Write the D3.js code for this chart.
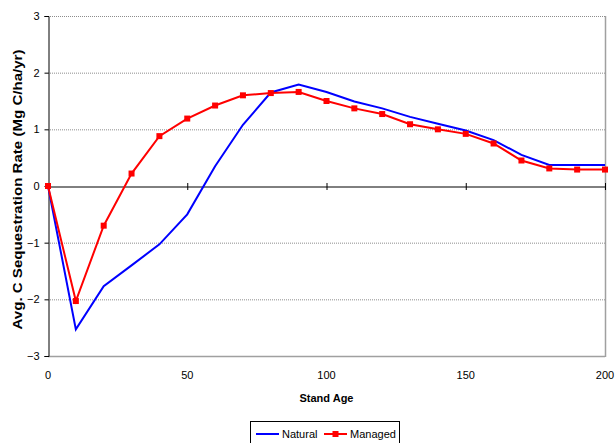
<!DOCTYPE html>
<html><head><meta charset="utf-8">
<script src="https://cdn.jsdelivr.net/npm/d3@7"></script>
<style>body{margin:0;background:#fff;} text{font-family:"Liberation Sans",Arial,sans-serif;}</style>
</head><body>
<svg id="c" width="615" height="443"></svg>
<script>
const ages = [0,10,20,30,40,50,60,70,80,90,100,110,120,130,140,150,160,170,180,190,200];
const natural = [0,-2.53,-1.77,-1.4,-1.03,-0.5,0.35,1.08,1.65,1.79,1.66,1.49,1.37,1.22,1.1,0.98,0.81,0.55,0.37,0.37,0.37];
const managed = [0,-2.03,-0.7,0.22,0.88,1.19,1.42,1.6,1.64,1.66,1.5,1.37,1.27,1.09,1.0,0.92,0.75,0.45,0.31,0.29,0.29];
const xTicks = [0,50,100,150,200];
const yTicks = [-3,-2,-1,0,1,2,3];

const svg = d3.select("#c");
const L=48, R=605, T=16, B=356;
const x = d3.scaleLinear().domain([0,200]).range([L,R]);
const y = d3.scaleLinear().domain([-3,3]).range([B,T]);

// gridlines
svg.append("g").selectAll("line").data(yTicks.filter(d=>d!==0)).join("line")
  .attr("x1",L).attr("x2",R).attr("y1",d=>y(d)+0.5).attr("y2",d=>y(d)+0.5)
  .attr("stroke","#8c8c8c").attr("stroke-width",1).attr("stroke-dasharray","1,1");
// plot border right/bottom
svg.append("line").attr("x1",R+0.5).attr("x2",R+0.5).attr("y1",T).attr("y2",B+1).attr("stroke","#a0a0a0").attr("stroke-width",1.5);
svg.append("line").attr("x1",L).attr("x2",R).attr("y1",B+0.5).attr("y2",B+0.5).attr("stroke","#a0a0a0").attr("stroke-width",1.5);

// y axis
const yAxis = d3.axisLeft(y).tickValues(yTicks).tickSize(4).tickPadding(5).tickFormat(d3.format("d"));
const gy = svg.append("g").attr("transform",`translate(${L+0.5},0)`).call(yAxis);
gy.select(".domain").attr("stroke","#000");
gy.selectAll("text").attr("font-size",11).attr("fill","#000").attr("font-family","Liberation Sans, Arial, sans-serif");

// x axis on zero line
const xAxis = d3.axisBottom(x).tickValues(xTicks).tickSize(0).tickFormat("");
const gx = svg.append("g").attr("transform",`translate(0,${y(0)+0.5})`).call(xAxis);
gx.select(".domain").attr("stroke","#000");
svg.append("g").selectAll("line").data(xTicks).join("line")
  .attr("x1",d=>x(d)+0.5).attr("x2",d=>x(d)+0.5).attr("y1",y(0)-3).attr("y2",y(0)+4)
  .attr("stroke","#000");
svg.append("g").selectAll("text").data(xTicks).join("text")
  .attr("x",d=>x(d)).attr("y",B+23).attr("text-anchor","middle").attr("font-size",11).text(d=>d);

// titles
svg.append("text").attr("x",(L+R)/2).attr("y",402).attr("text-anchor","middle")
  .attr("font-size",11).attr("font-weight","bold").text("Stand Age");
svg.append("text").attr("transform",`translate(22,189.5) rotate(-90)`).attr("text-anchor","middle")
  .attr("font-size",12).attr("font-weight","bold")
  .attr("textLength",280).attr("lengthAdjust","spacingAndGlyphs")
  .text("Avg. C Sequestration Rate (Mg C/ha/yr)");

// lines
const line = d3.line().x((d,i)=>x(ages[i])).y(d=>y(d));
svg.append("path").datum(natural).attr("d",line).attr("fill","none").attr("stroke","#0000ff").attr("stroke-width",2);
svg.append("path").datum(managed).attr("d",line).attr("fill","none").attr("stroke","#ff0000").attr("stroke-width",2);
svg.append("g").selectAll("rect").data(managed).join("rect")
  .attr("x",(d,i)=>x(ages[i])-3).attr("y",d=>y(d)-3).attr("width",6).attr("height",6).attr("fill","#ff0000");

// legend
const lg = svg.append("g");
lg.append("rect").attr("x",250.5).attr("y",421.5).attr("width",149).attr("height",26).attr("fill","#fff").attr("stroke","#000");
lg.append("line").attr("x1",256).attr("x2",279).attr("y1",434).attr("y2",434).attr("stroke","#0000ff").attr("stroke-width",2);
lg.append("text").attr("x",282).attr("y",438).attr("font-size",11).text("Natural");
lg.append("line").attr("x1",324).attr("x2",347).attr("y1",434).attr("y2",434).attr("stroke","#ff0000").attr("stroke-width",2);
lg.append("rect").attr("x",332.5).attr("y",431).attr("width",6).attr("height",6).attr("fill","#ff0000");
lg.append("text").attr("x",350).attr("y",438).attr("font-size",11).text("Managed");
</script>
</body></html>
